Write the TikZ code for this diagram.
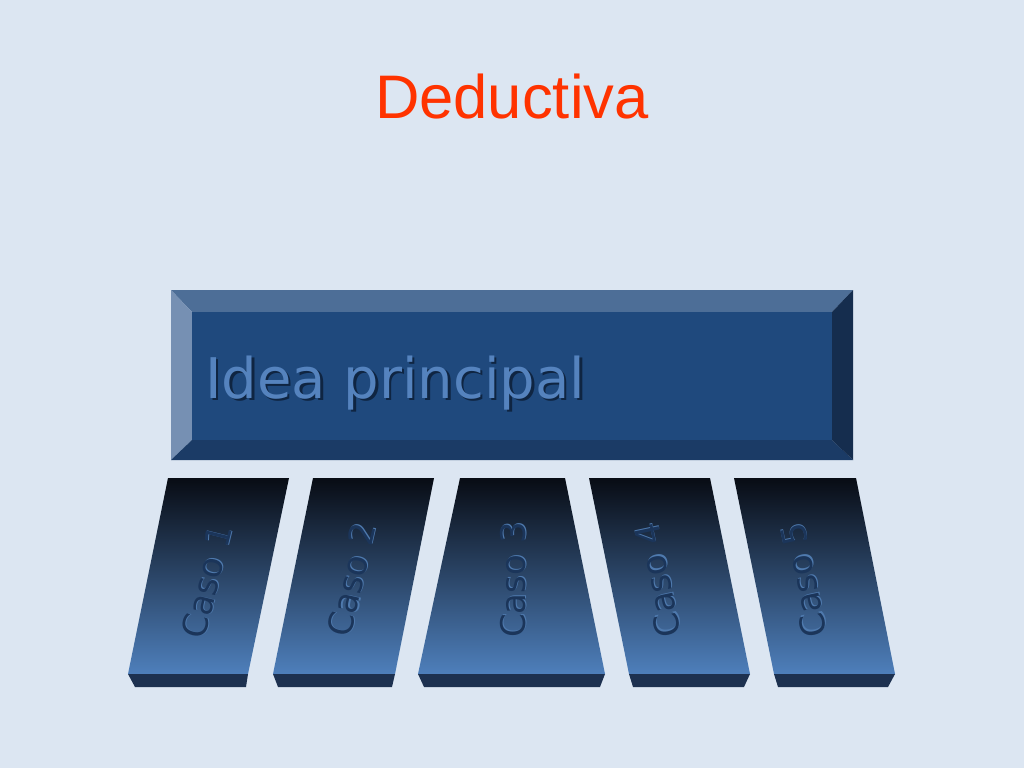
\documentclass[tikz,border=0pt]{standalone}
\usepackage{fontspec}
\setmainfont{DejaVu Sans}
\newfontfamily\titlefont{Liberation Sans}
\definecolor{bg}{HTML}{DCE6F2}
\definecolor{titlered}{HTML}{FF3300}
\definecolor{boxmid}{HTML}{1F497D}
\definecolor{bevtop}{HTML}{4D6E97}
\definecolor{bevleft}{HTML}{7690B3}
\definecolor{bevbot}{HTML}{1B3B66}
\definecolor{bevright}{HTML}{152D4E}
\definecolor{ideatext}{HTML}{5583BE}
\definecolor{ideashadow}{HTML}{0F2542}
\definecolor{casotop}{HTML}{080C14}
\definecolor{casobot}{HTML}{4E7FBB}
\definecolor{casostrip}{HTML}{1D3150}
\definecolor{casotext}{HTML}{1B355A}
\definecolor{casolight}{HTML}{4F7AAE}
\newcommand{\embossed}[1]{\makebox[0pt][l]{\hspace{1pt}\raisebox{-1pt}{\color{casolight}#1}}#1}
\newcommand{\shadowed}[1]{\makebox[0pt][l]{\hspace{2.5pt}\raisebox{-2.5pt}{\color{ideashadow}#1}}#1}
\tikzset{
  casoface/.style={top color=casotop, bottom color=casobot, draw=none},
  casostripe/.style={fill=casostrip, draw=none},
  casolabel/.style={font=\fontsize{34}{34}\selectfont, text=casotext, inner sep=0pt},
}
\begin{document}
\begin{tikzpicture}[x=1pt,y=-1pt]
\fill[bg] (0,0) rectangle (1024,768);
\useasboundingbox (0,0) rectangle (1024,768);
% title
\node[anchor=base west, inner sep=0pt, text=titlered, font=\titlefont\fontsize{61.5}{61.5}\selectfont] (title) at (375,118) {Deductiva};
% main box with bevel
\fill[bevtop] (171,290) -- (853,290) -- (832,312) -- (192,312) -- cycle;
\fill[bevleft] (171,290) -- (192,312) -- (192,440) -- (171,460) -- cycle;
\fill[bevbot] (171,460) -- (192,440) -- (832,440) -- (853,460) -- cycle;
\fill[bevright] (853,290) -- (853,460) -- (832,440) -- (832,312) -- cycle;
\fill[boxmid] (192,312) rectangle (832,440);
\node[anchor=base west, inner sep=0pt, text=ideatext, font=\fontsize{56}{56}\selectfont] (idea) at (205,398) {\shadowed{Idea principal}};
% casos: faces
\shade[casoface] (168,478) -- (289,478) -- (248,674) -- (128,674) -- cycle;
\fill[casostripe] (128,674) -- (248,674) -- (246,687) -- (135,687) -- cycle;
\shade[casoface] (313,478) -- (434,478) -- (395,674) -- (273,674) -- cycle;
\fill[casostripe] (273,674) -- (395,674) -- (392,687) -- (278,687) -- cycle;
\shade[casoface] (460,478) -- (565,478) -- (605,674) -- (418,674) -- cycle;
\fill[casostripe] (418,674) -- (605,674) -- (600,687) -- (424,687) -- cycle;
\shade[casoface] (589,478) -- (710,478) -- (750,674) -- (629,674) -- cycle;
\fill[casostripe] (629,674) -- (750,674) -- (744,687) -- (633,687) -- cycle;
\shade[casoface] (734,478) -- (856,478) -- (895,674) -- (774,674) -- cycle;
\fill[casostripe] (774,674) -- (895,674) -- (888,687) -- (778,687) -- cycle;
% caso labels
\node[casolabel, rotate=76] (c1) at (207,582) {\embossed{Caso 1}};
\node[casolabel, rotate=77] (c2) at (352,580) {\embossed{Caso 2}};
\node[casolabel, rotate=90] (c3) at (514,580) {\embossed{Caso 3}};
\node[casolabel, rotate=102] (c4) at (658,580) {\embossed{Caso 4}};
\node[casolabel, rotate=102] (c5) at (804,580) {\embossed{Caso 5}};
\end{tikzpicture}
\end{document}
